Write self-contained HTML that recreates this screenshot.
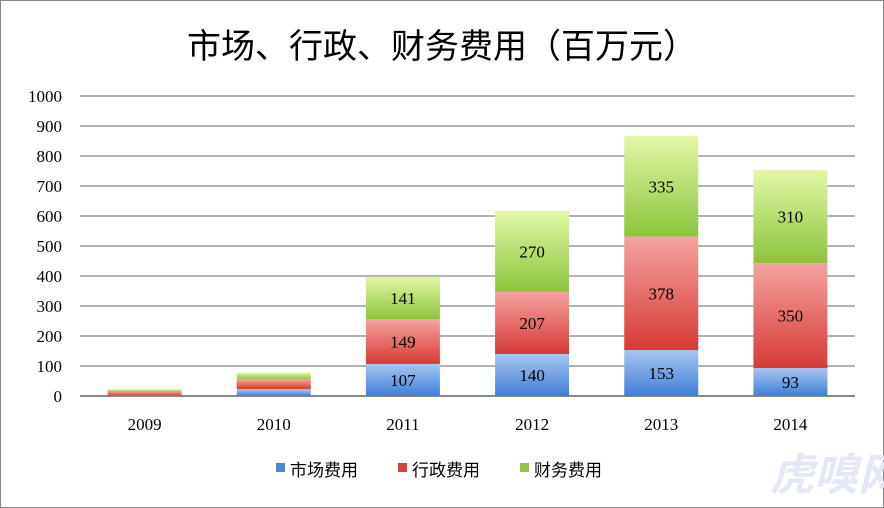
<!DOCTYPE html>
<html><head><meta charset="utf-8"><style>
body{margin:0;background:#fff;}
svg{display:block;font-family:"Liberation Serif","Noto Serif CJK SC",serif;}
</style></head><body>
<svg id="c" width="884" height="508">
<defs>
<linearGradient id="gb" x1="0" y1="0" x2="0" y2="1"><stop offset="0" stop-color="#a7c6f2"/><stop offset="1" stop-color="#3f7fd8"/></linearGradient>
<linearGradient id="gr" x1="0" y1="0" x2="0" y2="1"><stop offset="0" stop-color="#f5a3a0"/><stop offset="1" stop-color="#d63a35"/></linearGradient>
<linearGradient id="gg" x1="0" y1="0" x2="0" y2="1"><stop offset="0" stop-color="#e3f7a6"/><stop offset="1" stop-color="#8cc43c"/></linearGradient>
</defs>
<rect x="0.5" y="0.5" width="883" height="507" fill="#fff" stroke="#888"/>
<text x="442" y="58" text-anchor="middle" font-size="34" font-family="'Noto Sans CJK SC',sans-serif" fill="#000">市场、行政、财务费用（百万元）</text>
<g id="grid"></g><g id="bars"></g><g id="axis"></g>
<g font-family="'Noto Sans CJK SC',sans-serif" font-size="17">
<rect x="276" y="463" width="9" height="9" fill="#4a86dc"/><text x="290" y="476">市场费用</text>
<rect x="398" y="463" width="9" height="9" fill="#d9433e"/><text x="412" y="476">行政费用</text>
<rect x="520" y="463" width="9" height="9" fill="#93c842"/><text x="534" y="476">财务费用</text>
</g>
<text x="770" y="490" font-size="44" font-style="italic" font-weight="bold" fill="#e4e8f4" font-family="'Noto Sans CJK SC',sans-serif">虎嗅网</text>
</svg>
<script>
const categories=["2009","2010","2011","2012","2013","2014"];
const marketing=[1,23,107,140,153,93];
const admin=[14,33,149,207,378,350];
const finance=[7,22,141,270,335,310];
const yTicks=[0,100,200,300,400,500,600,700,800,900,1000];
const showLabels=[false,false,true,true,true,true];
const NS="http://www.w3.org/2000/svg";
const L=80,R=855,Y0=396,Y1=96,YMAX=1000;
const y=v=>Y0-(v/YMAX)*(Y0-Y1);
const band=(R-L)/categories.length;
const xc=i=>L+band*(i+0.5);
const BW=74;
function mk(t,a,p){const e=document.createElementNS(NS,t);for(const k in a)e.setAttribute(k,a[k]);p.appendChild(e);return e;}
const grid=document.getElementById('grid'),bars=document.getElementById('bars'),axis=document.getElementById('axis');
yTicks.forEach(t=>{
 const l=mk('line',{x1:L,x2:R,y1:y(t),y2:y(t),stroke:t===0?'#888':'#999','stroke-width':t===0?2:1.5},grid);
 
 
 const tx=mk('text',{x:62,y:y(t)+6,'text-anchor':'end','font-size':17},axis);
 tx.textContent=t;
 
 
});
const series=[[marketing,'url(#gb)','marketing'],[admin,'url(#gr)','admin'],[finance,'url(#gg)','finance']];
categories.forEach((c,i)=>{
 let base=0;
 series.forEach(([arr,fill,nm])=>{
  const v=arr[i];
  const r=mk('rect',{x:xc(i)-BW/2,y:y(base+v),width:BW,height:y(base)-y(base+v),fill:fill},bars);
  
  
  if(showLabels[i]){
   const t=mk('text',{x:xc(i),y:(y(base)+y(base+v))/2+6,'text-anchor':'middle','font-size':17},bars);
   t.textContent=v;
   
   
  }
  base+=v;
 });
 const t=mk('text',{x:xc(i),y:430,'text-anchor':'middle','font-size':17},axis);
 t.textContent=c;
 
 
});
</script>
</body></html>
